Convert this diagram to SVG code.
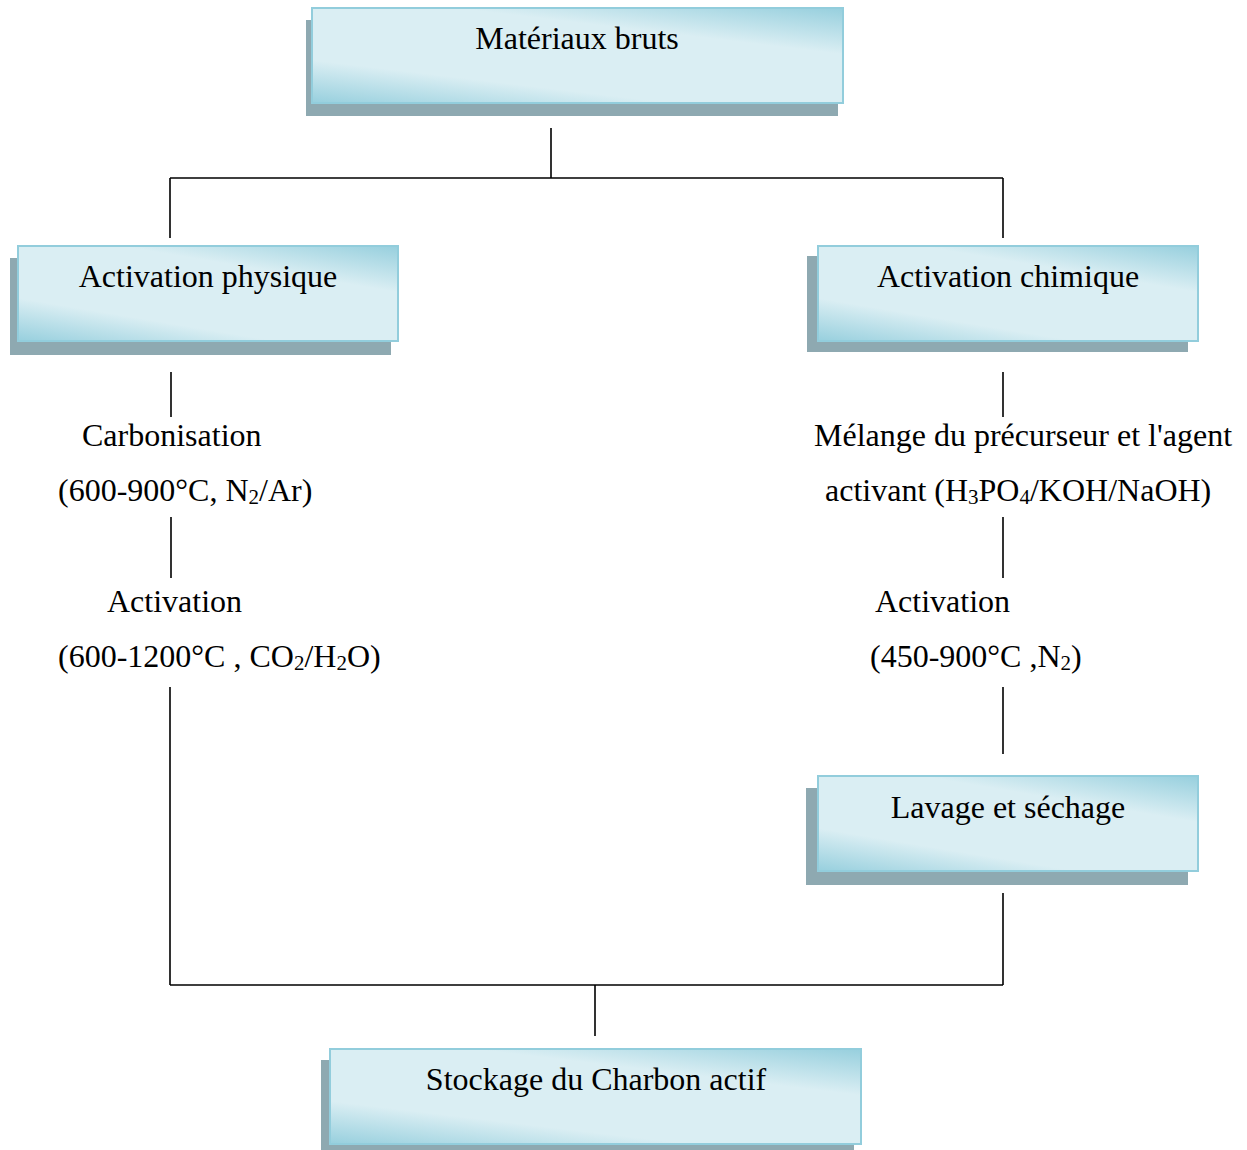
<svg xmlns="http://www.w3.org/2000/svg" width="1247" height="1150" viewBox="0 0 1247 1150">
<defs>
<linearGradient id="g" x1="0.1" y1="1.1" x2="0.9" y2="-0.1">
<stop offset="0" stop-color="#92cddc"/>
<stop offset="0.28" stop-color="#daeef3"/>
<stop offset="0.7" stop-color="#daeef3"/>
<stop offset="1" stop-color="#92cddc"/>
</linearGradient>
</defs>
<style>
.sh{fill:#8ea9b1}
.bx{fill:url(#g);stroke:#92cddc;stroke-width:2}
text{font-family:"Liberation Serif","Times New Roman",serif;font-size:32px;fill:#000}
.c{text-anchor:middle}
.s{font-size:21px}
.ln{stroke:#000;stroke-width:1.6;fill:none}
</style>
<rect width="1247" height="1150" fill="#fff"/>
<g id="connectors">
<path class="ln" d="M551,128V178M170,178H1003M170,178V238M1003,178V238"/>
<path class="ln" d="M171,372V417M171,517V578M170,687V985M170,985H1003M1003,893V985M595,985V1036"/>
<path class="ln" d="M1003,372V417M1003,517V578M1003,687V754"/>
</g>
<g id="n1">
<rect class="sh" x="306" y="20" width="532" height="96"/>
<rect class="bx" x="312" y="8" width="531" height="95"/>
<text class="c" x="577" y="49">Matériaux bruts</text>
</g>
<g id="n2">
<rect class="sh" x="10" y="258" width="381" height="97"/>
<rect class="bx" x="18" y="246" width="380" height="95"/>
<text class="c" x="208" y="287">Activation physique</text>
</g>
<g id="n3">
<rect class="sh" x="807" y="256" width="381" height="96"/>
<rect class="bx" x="818" y="246" width="380" height="95"/>
<text class="c" x="1008" y="287">Activation chimique</text>
</g>
<g id="t1">
<text x="82" y="446">Carbonisation</text>
<text x="58" y="501">(600-900°C, N<tspan class="s" dy="3">2</tspan><tspan dy="-3">/Ar)</tspan></text>
</g>
<g id="t2">
<text x="107" y="612">Activation</text>
<text x="58" y="667">(600-1200°C , CO<tspan class="s" dy="3">2</tspan><tspan dy="-3">/H</tspan><tspan class="s" dy="3">2</tspan><tspan dy="-3">O)</tspan></text>
</g>
<g id="t3">
<text x="814" y="446">Mélange du précurseur et l'agent</text>
<text x="825" y="501">activant (H<tspan class="s" dy="3">3</tspan><tspan dy="-3">PO</tspan><tspan class="s" dy="3">4</tspan><tspan dy="-3">/KOH/NaOH)</tspan></text>
</g>
<g id="t4">
<text x="875" y="612">Activation</text>
<text x="870" y="667">(450-900°C ,N<tspan class="s" dy="3">2</tspan><tspan dy="-3">)</tspan></text>
</g>
<g id="n4">
<rect class="sh" x="806" y="788" width="382" height="97"/>
<rect class="bx" x="818" y="776" width="380" height="95"/>
<text class="c" x="1008" y="818">Lavage et séchage</text>
</g>
<g id="n5">
<rect class="sh" x="321" y="1060" width="533" height="90"/>
<rect class="bx" x="330" y="1049" width="531" height="95"/>
<text class="c" x="596" y="1090">Stockage du Charbon actif</text>
</g>
</svg>
